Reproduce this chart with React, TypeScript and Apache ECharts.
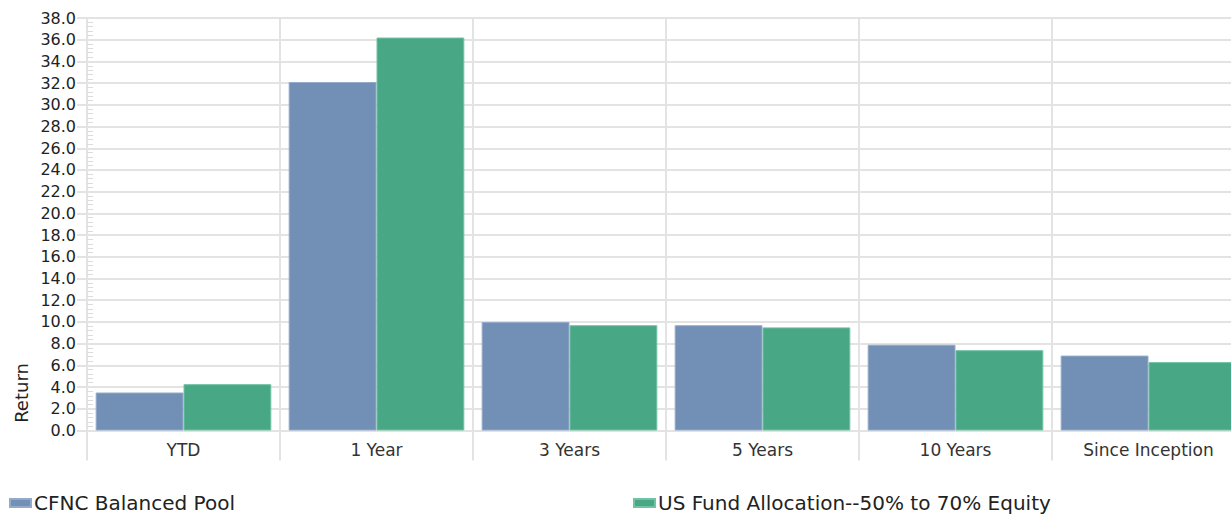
import React, { useEffect, useRef } from "react";
import * as echarts from "echarts";

const categories = ["YTD", "1 Year", "3 Years", "5 Years", "10 Years", "Since Inception"];
const seriesNames = ["CFNC Balanced Pool", "US Fund Allocation--50% to 70% Equity"];
const poolValues = [3.5, 32.1, 10.0, 9.7, 7.9, 6.9];
const benchmarkValues = [4.27, 36.2, 9.7, 9.5, 7.4, 6.3];
const yMin = 0;
const yMax = 38;
const yInterval = 2;

const FONT = "'DejaVu Sans', Verdana, sans-serif";
const GRID_COLOR = "#e3e3e3";

export default function App() {
  const ref = useRef<HTMLDivElement>(null);
  useEffect(() => {
    if (!ref.current) return;
    const chart = echarts.init(ref.current, undefined, { renderer: "svg" });
    const legendBase = {
      top: 493,
      padding: 0,
      itemWidth: 21,
      itemHeight: 8,
      itemGap: 3,
      icon: "rect",
      textStyle: { fontSize: 20, color: "#222", fontFamily: FONT, padding: [0, 0, 0, -2] },
    };
    chart.setOption({
      animation: false,
      textStyle: { fontFamily: FONT },
      grid: { left: 87, top: 18, right: 15, bottom: 83.5 },
      legend: [
        { ...legendBase, data: [seriesNames[0]], left: 9 },
        { ...legendBase, data: [seriesNames[1]], left: 633 },
      ],
      xAxis: {
        type: "category",
        data: categories,
        boundaryGap: true,
        axisLine: { show: true, lineStyle: { color: GRID_COLOR, width: 2 } },
        axisTick: { show: true, length: 30, lineStyle: { color: GRID_COLOR, width: 2 } },
        splitLine: { show: true, lineStyle: { color: GRID_COLOR, width: 2 } },
        axisLabel: { fontSize: 17, color: "#333", margin: 11, fontFamily: FONT },
      },
      yAxis: [
        {
          type: "value",
          min: yMin,
          max: yMax,
          interval: yInterval,
          axisLine: { show: true, lineStyle: { color: GRID_COLOR, width: 2 } },
          axisTick: { show: true, length: 10, lineStyle: { color: GRID_COLOR, width: 2 } },
          splitLine: { show: true, lineStyle: { color: GRID_COLOR, width: 2 } },
          axisLabel: {
            fontSize: 16,
            color: "#222",
            margin: 11,
            fontFamily: FONT,
            formatter: (v: number) => v.toFixed(1),
          },
        },
        {
          type: "value",
          min: yMin,
          max: yMax,
          interval: yInterval,
          position: "left",
          axisLine: { show: false },
          axisTick: { show: false, inside: true },
          axisLabel: { show: false },
          splitLine: { show: false },
          minorTick: { show: true, splitNumber: 5, length: 6, lineStyle: { color: "#dcdcdc", width: 1 } },
        },
      ],
      graphic: [
        {
          type: "text",
          x: 21,
          y: 393,
          rotation: Math.PI / 2,
          style: {
            text: "Return",
            fontSize: 18,
            fill: "#222",
            fontFamily: FONT,
            align: "center",
            verticalAlign: "middle",
          },
        },
      ],
      series: [
        {
          name: seriesNames[0],
          type: "bar",
          data: poolValues,
          barGap: "0%",
          barCategoryGap: "9%",
          itemStyle: { color: "#728fb5", borderColor: "#93aacb", borderWidth: 1 },
        },
        {
          name: seriesNames[1],
          type: "bar",
          data: benchmarkValues,
          barGap: "0%",
          barCategoryGap: "9%",
          itemStyle: { color: "#48a886", borderColor: "#72c2a4", borderWidth: 1 },
        },
      ],
    });
    return () => chart.dispose();
  }, []);
  return (
    <div style={{ position: "fixed", left: 0, top: 0, width: 1231, height: 514, overflow: "hidden", background: "#fff" }}>
      <div ref={ref} style={{ width: 1260, height: 514 }} />
    </div>
  );
}
